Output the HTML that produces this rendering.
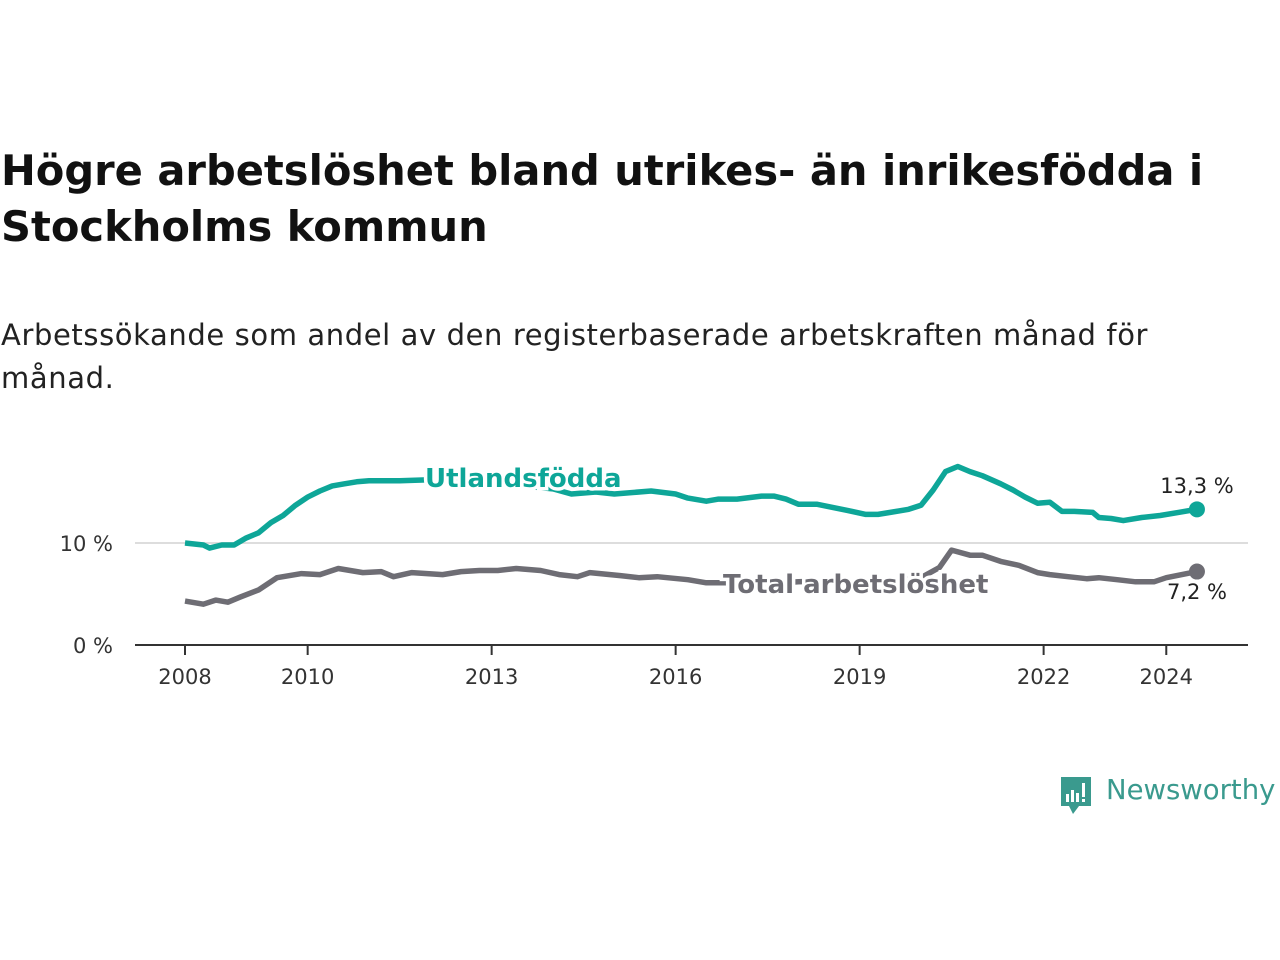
<!DOCTYPE html>
<html><head><meta charset="utf-8"><style>
body{margin:0;width:1280px;height:960px;background:#fff;font-family:"DejaVu Sans","Liberation Sans",sans-serif;overflow:hidden}
h1{position:absolute;left:1px;top:143px;margin:0;font-size:41.6px;line-height:56px;font-weight:bold;color:#111;width:1278px}
.sub{position:absolute;left:1px;top:314px;font-size:29px;line-height:43px;color:#222;width:1200px;letter-spacing:0.6px}
svg{position:absolute;left:0;top:0}
</style></head><body>
<h1>Högre arbetslöshet bland utrikes- än inrikesfödda i Stockholms kommun</h1>
<div class="sub">Arbetssökande som andel av den registerbaserade arbetskraften månad för månad.</div>
<svg id="chart" width="1280" height="960" style="font-family:'DejaVu Sans','Liberation Sans',sans-serif"></svg>
<script>
const tealX=[2008.0,2008.3,2008.4,2008.6,2008.8,2009.0,2009.2,2009.4,2009.6,2009.8,2010.0,2010.2,2010.4,2010.6,2010.8,2011.0,2011.5,2012.0,2012.5,2013.0,2013.5,2014.0,2014.3,2014.7,2015.0,2015.6,2016.0,2016.2,2016.5,2016.7,2017.0,2017.4,2017.6,2017.8,2018.0,2018.3,2018.8,2019.1,2019.3,2019.5,2019.8,2020.0,2020.2,2020.4,2020.6,2020.8,2021.0,2021.3,2021.5,2021.7,2021.9,2022.1,2022.3,2022.5,2022.8,2022.9,2023.1,2023.3,2023.6,2023.9,2024.2,2024.5];
const tealY=[10.0,9.8,9.5,9.8,9.8,10.5,11.0,12.0,12.7,13.7,14.5,15.1,15.6,15.8,16.0,16.1,16.1,16.2,16.0,15.8,15.6,15.3,14.8,15.0,14.8,15.1,14.8,14.4,14.1,14.3,14.3,14.6,14.6,14.3,13.8,13.8,13.2,12.8,12.8,13.0,13.3,13.7,15.2,17.0,17.5,17.0,16.6,15.8,15.2,14.5,13.9,14.0,13.1,13.1,13.0,12.5,12.4,12.2,12.5,12.7,13.0,13.3];
const grayX=[2008.0,2008.3,2008.5,2008.7,2008.9,2009.2,2009.5,2009.9,2010.2,2010.5,2010.9,2011.2,2011.4,2011.7,2012.2,2012.5,2012.8,2013.1,2013.4,2013.8,2014.1,2014.4,2014.6,2015.1,2015.4,2015.7,2016.2,2016.5,2016.8,2017.5,2018.0,2018.5,2019.0,2019.5,2020.0,2020.3,2020.5,2020.8,2021.0,2021.3,2021.6,2021.9,2022.1,2022.4,2022.7,2022.9,2023.2,2023.5,2023.8,2024.0,2024.5];
const grayY=[4.3,4.0,4.4,4.2,4.7,5.4,6.6,7.0,6.9,7.5,7.1,7.2,6.7,7.1,6.9,7.2,7.3,7.3,7.5,7.3,6.9,6.7,7.1,6.8,6.6,6.7,6.4,6.1,6.1,6.0,6.2,6.3,6.0,6.3,6.6,7.6,9.3,8.8,8.8,8.2,7.8,7.1,6.9,6.7,6.5,6.6,6.4,6.2,6.2,6.6,7.2];
const yearTicks=[2008,2010,2013,2016,2019,2022,2024];
const yTicks=[0,10];
const ns="http://www.w3.org/2000/svg";
const svg=document.getElementById('chart');
const X=y=>185+(y-2008)*61.33;
const Y=v=>645-v*10.2;
function mk(t,a){const e=document.createElementNS(ns,t);for(const k in a)e.setAttribute(k,a[k]);svg.appendChild(e);return e;}
let g=mk('line',{x1:135,x2:1248,y1:Y(10),y2:Y(10),stroke:'#ddd','stroke-width':2});


yTicks.forEach(v=>{const t=mk('text',{x:113,y:Y(v)+8,'text-anchor':'end','font-size':21,fill:'#333'});t.textContent=v+' %';

});
let ax=mk('line',{x1:135,x2:1248,y1:645,y2:645,stroke:'#333','stroke-width':2});


yearTicks.forEach(yr=>{mk('line',{x1:X(yr),x2:X(yr),y1:645,y2:655,stroke:'#333','stroke-width':2});
const t=mk('text',{x:X(yr),y:684,'text-anchor':'middle','font-size':21,fill:'#333'});t.textContent=yr;

});
function line(xs,ys,col,name){const d=xs.map((x,i)=>(i?'L':'M')+X(x).toFixed(1)+','+Y(ys[i]).toFixed(1)).join('');
const p=mk('path',{d:d,fill:'none',stroke:col,'stroke-width':5.5,'stroke-linejoin':'round'});


const n=xs.length-1;const c=mk('circle',{cx:X(xs[n]),cy:Y(ys[n]),r:8,fill:col});

}
line(grayX,grayY,'#6e6d74','line-total');
line(tealX,tealY,'#0ea698','line-utlandsfodda');
function lab(x,y,txt,col,anchor,bold,name,size){const t=mk('text',{x:x,y:y,'text-anchor':anchor,'font-size':size,'font-weight':bold?'bold':'normal',fill:col,stroke:bold?'#fff':'none','stroke-width':bold?7:0,'paint-order':'stroke'});t.textContent=txt;

}
lab(425,487,'Utlandsfödda','#0ea698','start',true,'label-utlandsfodda',26);
lab(723,593,'Total arbetslöshet','#6e6d74','start',true,'label-total',26);
lab(1197,493,'13,3 %','#222','middle',false,'value-label-utlandsfodda',21);
lab(1197,599,'7,2 %','#222','middle',false,'value-label-total',21);
</script>
<div style="position:absolute;left:1059px;top:775px;width:221px;height:44px">
<svg width="36" height="44" style="position:absolute;left:0;top:0"><path d="M2 2h30v29H20l-6 8-4-8H2z" fill="#3a9a8e"/><rect x="7" y="19" width="3" height="8" fill="#fff"/><rect x="12" y="15" width="3" height="12" fill="#fff"/><rect x="17" y="18" width="3" height="9" fill="#fff"/><rect x="23" y="8" width="3" height="14" fill="#fff"/><rect x="23" y="24" width="3" height="3" fill="#fff"/></svg>
<span style="position:absolute;left:47px;top:-1px;font-size:27.5px;color:#3a9a8e;white-space:nowrap">Newsworthy</span></div>
</body></html>
